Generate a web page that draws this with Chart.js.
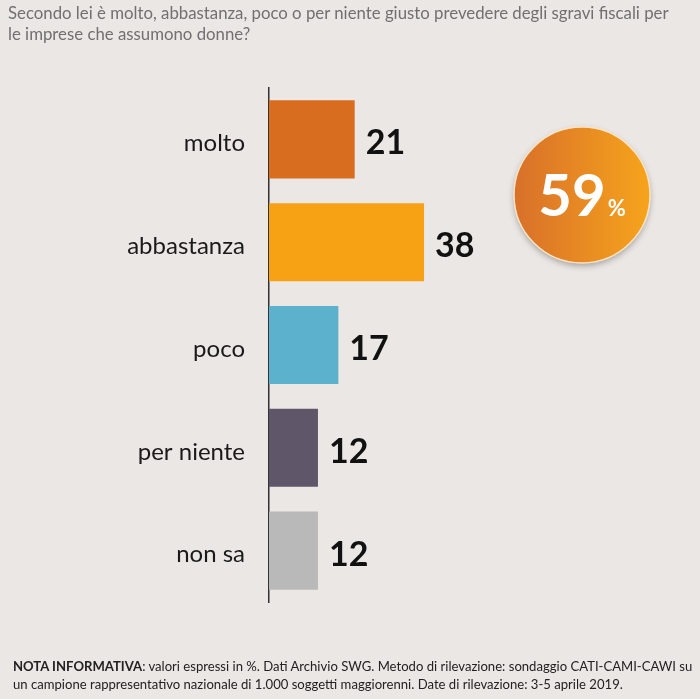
<!DOCTYPE html>
<html>
<head>
<meta charset="utf-8">
<script src="https://cdn.jsdelivr.net/npm/chart.js@4.4.1/dist/chart.umd.min.js"></script>
<style>
    html, body { margin: 0; padding: 0; background: #ebe7e4; }
    #wrap { position: relative; width: 700px; height: 699px; overflow: hidden; font-family: Lato, 'Open Sans', sans-serif; }
    #title { position: absolute; left: 8px; top: 2px; width: 672px; font-size: 16.8px; line-height: 21px; color: #707070; }
    #note { position: absolute; left: 13px; top: 657px; width: 684px; font-size: 13.1px; line-height: 18px; color: #222; }
    canvas { position: absolute; left: 0; top: 0; }
</style>
</head>
<body>
<div id="wrap">
    <canvas id="chart" width="700" height="699"></canvas>
    <div id="title">Secondo lei è molto, abbastanza, poco o per niente giusto prevedere degli sgravi fiscali per le imprese che assumono donne?</div>
    <div id="note"><b>NOTA INFORMATIVA</b>: valori espressi in %. Dati Archivio SWG. Metodo di rilevazione: sondaggio CATI-CAMI-CAWI su un campione rappresentativo nazionale di 1.000 soggetti maggiorenni. Date di rilevazione: 3-5 aprile 2019.</div>
</div>
<script>
// Survey data
const categories = ['molto', 'abbastanza', 'poco', 'per niente', 'non sa'];
const values = [21, 38, 17, 12, 12];
const barColors = ['#d96d1f', '#f7a215', '#5cb2cd', '#5f5769', '#b9b9b9'];
const totalPositive = 59;

// Value labels next to each bar
const valueLabels = {
    id: 'valueLabels',
    afterDatasetsDraw(chart) {
        const ctx = chart.ctx;
        const meta = chart.getDatasetMeta(0);
        ctx.save();
        ctx.font = 'bold 34px Lato, sans-serif';
        ctx.fillStyle = '#111';
        ctx.textBaseline = 'middle';
        ctx.textAlign = 'left';
        meta.data.forEach((bar, i) => {
            ctx.fillText(values[i], bar.x + 11, bar.y + 4);
        });
        ctx.restore();
    }
};

// Orange badge with the total
const badge = {
    id: 'badge',
    afterDraw(chart) {
        const ctx = chart.ctx;
        const cx = 582, cy = 195, r = 68;
        ctx.save();
        ctx.shadowColor = 'rgba(0,0,0,0.3)';
        ctx.shadowBlur = 6;
        ctx.shadowOffsetY = 3;
        const grad = ctx.createLinearGradient(cx - r, 0, cx + r, 0);
        grad.addColorStop(0, '#d8702a');
        grad.addColorStop(1, '#f6a41c');
        ctx.beginPath();
        ctx.arc(cx, cy, r, 0, Math.PI * 2);
        ctx.fillStyle = grad;
        ctx.fill();
        ctx.shadowColor = 'transparent';
        ctx.lineWidth = 1.5;
        ctx.strokeStyle = '#fbe3c4';
        ctx.stroke();

        ctx.fillStyle = '#fff';
        ctx.textBaseline = 'alphabetic';
        ctx.textAlign = 'left';
        ctx.font = 'bold 58px Lato, sans-serif';
        const w = ctx.measureText(String(totalPositive)).width;
        ctx.font = 'bold 22px Lato, sans-serif';
        const wp = ctx.measureText('%').width;
        const x0 = cx - (w + wp + 2) / 2;
        ctx.font = 'bold 58px Lato, sans-serif';
        ctx.fillText(String(totalPositive), x0, cy + 21);
        ctx.font = 'bold 22px Lato, sans-serif';
        ctx.fillText('%', x0 + w + 2, cy + 21);
        ctx.restore();
    }
};

new Chart(document.getElementById('chart'), {
    type: 'bar',
    data: {
        labels: categories,
        datasets: [{
            data: values,
            backgroundColor: barColors,
            borderWidth: 0,
            barPercentage: 0.76,
            categoryPercentage: 1.0
        }]
    },
    options: {
        indexAxis: 'y',
        responsive: false,
        animation: false,
        layout: {
            padding: { top: 88, bottom: 97, left: 0, right: 23 }
        },
        plugins: {
            legend: { display: false },
            tooltip: { enabled: false }
        },
        scales: {
            x: {
                min: 0,
                max: 100,
                display: false
            },
            y: {
                afterFit: (scale) => { scale.width = 269; },
                grid: { display: false, drawTicks: false },
                border: { display: true, color: '#333', width: 1.5 },
                ticks: {
                    padding: 24,
                    labelOffset: 4,
                    color: '#1a1a1a',
                    font: { family: 'Lato, sans-serif', size: 24 }
                }
            }
        }
    },
    plugins: [valueLabels, badge]
});
</script>
</body>
</html>
